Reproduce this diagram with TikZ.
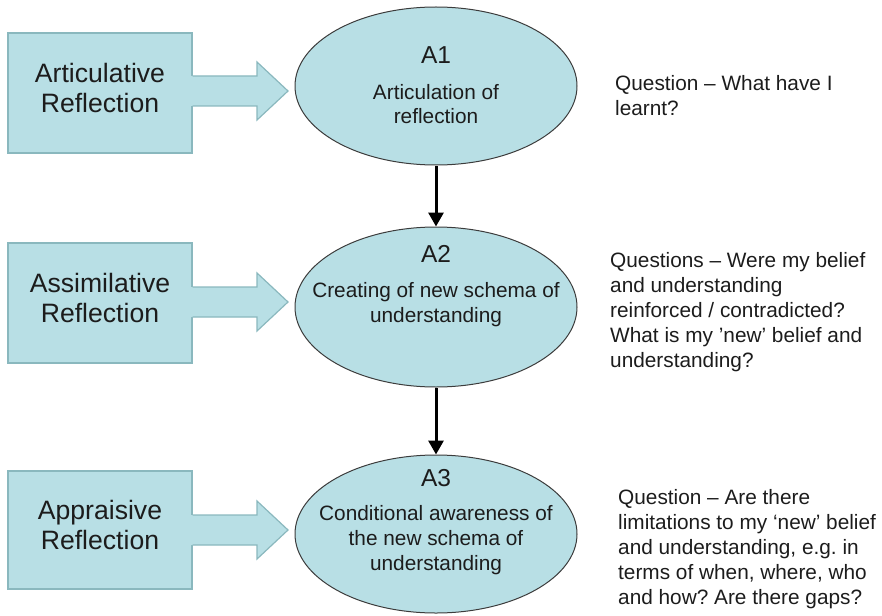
\documentclass[tikz,border=0pt]{standalone}
\usepackage{fontspec}
\setmainfont{Liberation Sans}
\frenchspacing
\usetikzlibrary{shapes.geometric,arrows.meta,calc}
\definecolor{fillc}{HTML}{B8DFE5}
\definecolor{boxline}{HTML}{8AB8BE}
\definecolor{ellline}{HTML}{3C3C3C}
\definecolor{txt}{HTML}{1C1C1C}
\tikzset{
  reflbox/.style={draw=boxline, line width=1.2pt, fill=fillc, minimum width=184pt, minimum height=120pt, inner sep=0pt},
  reflarrowfill/.style={fill=fillc, draw=none},
  reflarrowline/.style={draw=boxline, line width=1.2pt, line join=miter},
  stage/.style={ellipse, draw=ellline, line width=1pt, fill=fillc, minimum width=282pt, minimum height=158pt, inner sep=0pt},
  boxtext/.style={font=\fontsize{26.6}{30}\selectfont, text=txt, align=center, inner sep=0pt},
  alabel/.style={font=\fontsize{24.5}{29}\selectfont, text=txt, inner sep=0pt},
  etext/.style={font=\fontsize{20.8}{24.8}\selectfont, text=txt, align=center, inner sep=0pt},
  qtext/.style={font=\fontsize{20.8}{25}\selectfont, text=txt, align=left, inner sep=0pt, anchor=north west},
  flow/.style={line width=3pt, -{Triangle[width=15pt,length=14pt]}, black}
}
\begin{document}
\begin{tikzpicture}[x=1pt,y=-1pt]
\useasboundingbox (0,0) rectangle (882,615);

% ellipses
\node[stage] (e1) at (436,86) {};
\node[stage, minimum height=160pt] (e2) at (436,307) {};
\node[stage] (e3) at (436,534) {};

% boxes
\node[reflbox] (b1) at (100,93) {};
\node[reflbox] (b2) at (100,303) {};
\node[reflbox, minimum height=118pt] (b3) at (100,530) {};

% block arrows (joined to the boxes)
\foreach \b/\c in {b1/91, b2/302, b3/530}{
  \fill[reflarrowfill] ($(\b.east |- 0,\c-15)+(-3,0)$) -- (257,\c-15) -- (257,\c-29) -- (288,\c) -- (257,\c+29) -- (257,\c+15) -- ($(\b.east |- 0,\c+15)+(-3,0)$) -- cycle;
  \draw[reflarrowline] (\b.east |- 0,\c-15) -- (257,\c-15) -- (257,\c-29) -- (288,\c) -- (257,\c+29) -- (257,\c+15) -- (\b.east |- 0,\c+15);
}

% box texts
\node[boxtext] (t1) at (100,88) {Articulative\\Reflection};
\node[boxtext] (t2) at (100,298) {Assimilative\\Reflection};
\node[boxtext] (t3) at (100,525) {Appraisive\\Reflection};

% ellipse texts
\node[alabel] (a1) at (436,55.5) {A1};
\node[etext] (d1) at (436,104) {Articulation of\\reflection};
\node[alabel] (a2) at (436,254) {A2};
\node[etext] (d2) at (436,305) {Creating of new schema of\\understanding};
\node[alabel] (a3) at (436,478) {A3};
\node[etext] (d3) at (436,540) {Conditional awareness of\\the new schema of\\understanding};

% flow arrows
\draw[flow] (e1.south) -- (e2.north);
\draw[flow] (e2.south) -- (e3.north);

% questions
\node[qtext] (q1) at (615,75) {Question – What have I\\learnt?};
\node[qtext] (q2) at (610,252) {Questions – Were my belief\\and understanding\\reinforced / contradicted?\\What is my 'new' belief and\\understanding?};
\node[qtext] (q3) at (618,489) {Question – Are there\\limitations to my ‘new’ belief\\and understanding, e.g. in\\terms of when, where, who\\and how? Are there gaps?};
\end{tikzpicture}
\end{document}
